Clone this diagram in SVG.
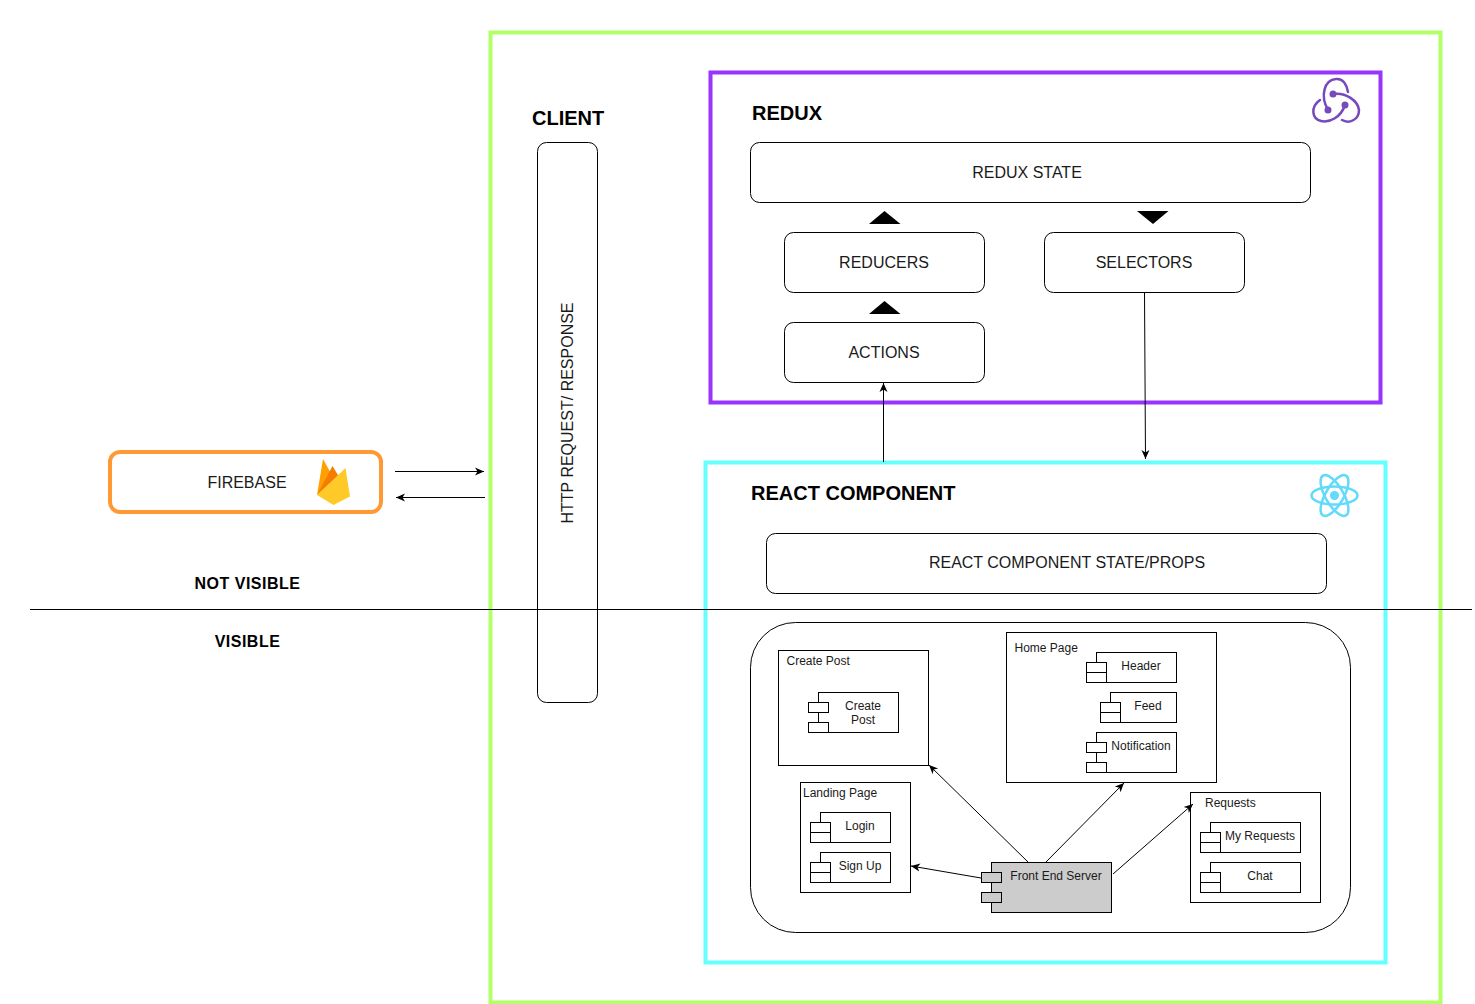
<svg xmlns="http://www.w3.org/2000/svg" width="1475" height="1004" viewBox="0 0 1475 1004">
<style>
text{font-family:"Liberation Sans",Arial,sans-serif;fill:#1a1a1a}
.t16{font-size:16px;text-anchor:middle}
.t12{font-size:12px;text-anchor:middle}
.tl{font-size:12px}
.h{font-size:20px;font-weight:bold;fill:#000}
.h16{font-size:16px;font-weight:bold;fill:#000;text-anchor:middle;letter-spacing:.5px}
.box{fill:#fff;stroke:#000;stroke-width:1}
.c{fill:none;stroke:#000;stroke-width:1}
.f{fill:#000;stroke:none}
</style>
<defs>
<marker id="a" markerUnits="userSpaceOnUse" markerWidth="12" markerHeight="12" refX="9" refY="5" orient="auto"><path d="M0 1L9 5L0 9L2.500 5Z" fill="#000"/></marker>
</defs>
<g id="client-frame"><rect x="490.500" y="32.500" width="950" height="970" fill="none" stroke="#b3ff66" stroke-width="4"/></g>
<g id="redux"><rect x="710.500" y="72.500" width="670" height="330" fill="none" stroke="#9933ff" stroke-width="4"/>
<text class="h" x="752" y="120">REDUX</text>
<g fill="none" stroke="#764abc" stroke-width="2.500" stroke-linecap="round">
<path d="M1328 110C1320 96 1324 80 1336 79C1343 78 1347 85 1348 92"/>
<path d="M1333 94C1346 92 1358 101 1359 110C1359 120 1349 124 1342 120"/>
<path d="M1345 105C1341 117 1330 123 1321 121C1312 119 1310 107 1320 100"/></g>
<g fill="#764abc"><circle cx="1333" cy="94" r="3.500"/><circle cx="1328" cy="110" r="3.500"/><circle cx="1345" cy="105" r="3.500"/></g></g>
<g id="react"><rect x="705.500" y="462.500" width="680" height="500" fill="none" stroke="#66ffff" stroke-width="4"/>
<text class="h" x="751" y="500">REACT COMPONENT</text>
<g fill="none" stroke="#61dafb" stroke-width="2.500"><ellipse cx="1334.500" cy="495.500" rx="23" ry="9"/><ellipse cx="1334.500" cy="495.500" rx="23" ry="9" transform="rotate(60 1334.500 495.500)"/><ellipse cx="1334.500" cy="495.500" rx="23" ry="9" transform="rotate(120 1334.500 495.500)"/></g><circle cx="1334.500" cy="495.500" r="4.500" fill="#61dafb"/></g>
<g id="client-label"><text class="h" x="532" y="125">CLIENT</text></g>
<g id="http"><rect class="box" x="537.500" y="142.500" width="60" height="560" rx="9"/><text class="t16" transform="translate(573 413) rotate(-90)">HTTP REQUEST/ RESPONSE</text></g>
<g id="redux-state"><rect class="box" x="750.500" y="142.500" width="560" height="60" rx="9"/><text class="t16" x="1027" y="178">REDUX STATE</text></g>
<g id="reducers"><rect class="box" x="784.500" y="232.500" width="200" height="60" rx="9"/><text class="t16" x="884" y="268">REDUCERS</text></g>
<g id="selectors"><rect class="box" x="1044.500" y="232.500" width="200" height="60" rx="9"/><text class="t16" x="1144" y="268">SELECTORS</text></g>
<g id="actions"><rect class="box" x="784.500" y="322.500" width="200" height="60" rx="9"/><text class="t16" x="884" y="358">ACTIONS</text></g>
<g id="up1"><path class="f" d="M869 224L884.500 211L900.500 224Z"/></g>
<g id="up2"><path class="f" d="M869 314L884.500 301L900.500 314Z"/></g>
<g id="down1"><path class="f" d="M1137 211H1168.500L1153 224Z"/></g>
<g id="firebase"><rect x="110" y="452" width="271" height="60" rx="10" fill="#fff" stroke="#ff9933" stroke-width="4"/><text class="t16" x="247" y="488">FIREBASE</text>
<path d="M317 495L323 459L333 477Z" fill="#ffa000"/><path d="M317 495L332.500 466L338.500 476Z" fill="#f57c00"/><path d="M317 495L345.500 468L350 496.500L333.500 505Z" fill="#ffca28"/></g>
<g id="props"><rect class="box" x="766.500" y="533.500" width="560" height="60" rx="9"/><text class="t16" x="1067" y="568">REACT COMPONENT STATE/PROPS</text></g>
<g id="visibility"><text class="h16" x="247.500" y="589">NOT VISIBLE</text><text class="h16" x="247.500" y="647">VISIBLE</text></g>
<g id="frontend-area"><rect class="box" x="750.500" y="622.500" width="600" height="310" rx="45"/></g>
<g id="create-post"><rect class="box" x="778.500" y="650.500" width="150" height="115"/><text class="tl" x="786.500" y="665">Create Post</text>
<rect class="box" x="818.500" y="692.500" width="80" height="40"/><rect class="box" x="808.500" y="702.500" width="20" height="10"/><rect class="box" x="808.500" y="722.500" width="20" height="10"/><text class="t12" x="863" y="710">Create</text><text class="t12" x="863" y="724">Post</text></g>
<g id="home-page"><rect class="box" x="1006.500" y="632.500" width="210" height="150"/><text class="tl" x="1014.500" y="652">Home Page</text>
<rect class="box" x="1096.500" y="652.500" width="80" height="30"/><rect class="box" x="1086.500" y="662.500" width="20" height="10"/><rect class="box" x="1086.500" y="672.500" width="20" height="10"/><text class="t12" x="1141" y="670">Header</text>
<rect class="box" x="1110.500" y="692.500" width="66" height="30"/><rect class="box" x="1100.500" y="702.500" width="20" height="10"/><rect class="box" x="1100.500" y="712.500" width="20" height="10"/><text class="t12" x="1148" y="710">Feed</text>
<rect class="box" x="1096.500" y="732.500" width="80" height="40"/><rect class="box" x="1086.500" y="742.500" width="20" height="10"/><rect class="box" x="1086.500" y="762.500" width="20" height="10"/><text class="t12" x="1141" y="750">Notification</text></g>
<g id="landing-page"><rect class="box" x="800.500" y="782.500" width="110" height="110"/><text class="tl" x="803" y="797">Landing Page</text>
<rect class="box" x="820.500" y="812.500" width="70" height="30"/><rect class="box" x="810.500" y="822.500" width="20" height="10"/><rect class="box" x="810.500" y="832.500" width="20" height="10"/><text class="t12" x="860" y="830">Login</text>
<rect class="box" x="820.500" y="852.500" width="70" height="30"/><rect class="box" x="810.500" y="862.500" width="20" height="10"/><rect class="box" x="810.500" y="872.500" width="20" height="10"/><text class="t12" x="860" y="870">Sign Up</text></g>
<g id="requests"><rect class="box" x="1190.500" y="792.500" width="130" height="110"/><text class="tl" x="1205" y="807">Requests</text>
<rect class="box" x="1210.500" y="822.500" width="90" height="30"/><rect class="box" x="1200.500" y="832.500" width="20" height="10"/><rect class="box" x="1200.500" y="842.500" width="20" height="10"/><text class="t12" x="1260" y="840">My Requests</text>
<rect class="box" x="1210.500" y="862.500" width="90" height="30"/><rect class="box" x="1200.500" y="872.500" width="20" height="10"/><rect class="box" x="1200.500" y="882.500" width="20" height="10"/><text class="t12" x="1260" y="880">Chat</text></g>
<g id="front-end-server"><rect x="991.500" y="862.500" width="120" height="50" fill="#ccc" stroke="#000"/><rect x="981.500" y="872.500" width="20" height="10" fill="#ccc" stroke="#000"/><rect x="981.500" y="892.500" width="20" height="10" fill="#ccc" stroke="#000"/><text class="t12" x="1056" y="880">Front End Server</text></g>
<g id="connectors">
<path class="c" d="M30 609.500H1472"/>
<path class="c" marker-end="url(#a)" d="M395 471.500H484"/>
<path class="c" marker-end="url(#a)" d="M485 497.500H396"/>
<path class="c" marker-end="url(#a)" d="M883.500 462V383"/>
<path class="c" marker-end="url(#a)" d="M1144.500 293L1145.500 459"/>
<path class="c" marker-end="url(#a)" d="M1029 863L929 765"/>
<path class="c" marker-end="url(#a)" d="M1046 862L1124 783"/>
<path class="c" marker-end="url(#a)" d="M981 878L911 866"/>
<path class="c" marker-end="url(#a)" d="M1113 874L1193 804"/>
</g>
</svg>
